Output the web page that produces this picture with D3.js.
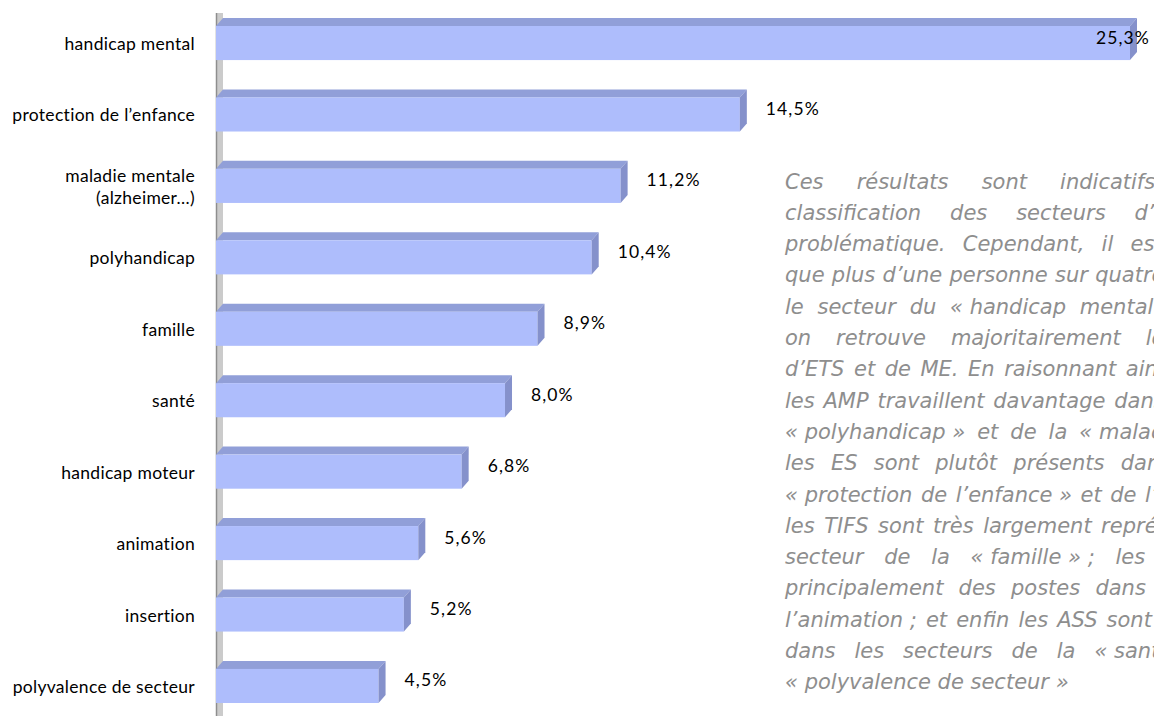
<!DOCTYPE html>
<html>
<head>
<meta charset="utf-8">
<script src="https://cdn.jsdelivr.net/npm/d3@7"></script>
<style>
  body { margin: 0; background: #fff; }
  svg { display: block; }
</style>
</head>
<body>
<script>
// secteurs d'activité, % des répondants
var categories = ["handicap mental", "protection de l’enfance", "maladie mentale\n(alzheimer…)", "polyhandicap",
                  "famille", "santé", "handicap moteur", "animation", "insertion", "polyvalence de secteur"];
var values = [25.3, 14.5, 11.2, 10.4, 8.9, 8.0, 6.8, 5.6, 5.2, 4.5];

// commentaire à droite, une entrée par ligne (justifié, coupé par le bord)
var textLines = [
  "Ces résultats sont indicatifs, car cette",
  "classification des secteurs d’activité reste",
  "problématique. Cependant, il est remarquable",
  "que plus d’une personne sur quatre travaille dans",
  "le secteur du «\u00a0handicap mental\u00a0» dans lequel",
  "on retrouve majoritairement les détenteurs",
  "d’ETS et de ME. En raisonnant ainsi, on voit que",
  "les AMP travaillent davantage dans le secteur du",
  "«\u00a0polyhandicap\u00a0» et de la «\u00a0maladie mentale\u00a0»\u00a0;",
  "les ES sont plutôt présents dans ceux de la",
  "«\u00a0protection de l’enfance\u00a0» et de l’insertion\u00a0; puis",
  "les TIFS sont très largement représentés dans le",
  "secteur de la «\u00a0famille\u00a0»\u00a0; les ME occupent",
  "principalement des postes dans le secteur de",
  "l’animation\u00a0; et enfin les ASS sont très présentes",
  "dans les secteurs de la «\u00a0santé\u00a0» et de la",
  "«\u00a0polyvalence de secteur\u00a0»"
];

var width = 1154, height = 716;
var depth = {dx: 7, dy: 8};
var colors = {front: "#aebdfc", top: "#919fd8", side: "#8591cb", wall: "#cbcbcb", wallEdge: "#8e8e8e"};

var fr = d3.formatLocale({decimal: ",", thousands: " ", grouping: [3], currency: ["", " €"]});
var pct = v => fr.format(".1f")(v) + "%";

var svg = d3.select("body").append("svg")
    .attr("width", width)
    .attr("height", height);

var xScale = d3.scaleLinear().domain([0, d3.max(values)]).range([216, 1130]),
    yScale = d3.scaleBand().domain(categories).range([26, 703]).paddingInner(0.523).paddingOuter(0);

// mur vertical (axe)
svg.append("rect")
    .attr("x", xScale(0))
    .attr("y", 13)
    .attr("width", depth.dx)
    .attr("height", height - 13)
    .attr("fill", colors.wall);
svg.append("line")
    .attr("x1", xScale(0) + 0.5).attr("x2", xScale(0) + 0.5)
    .attr("y1", 13).attr("y2", height)
    .attr("stroke", colors.wallEdge)
    .attr("stroke-width", 1.5);

var rows = categories.map((c, i) => ({cat: c, value: values[i]}));

var bars = svg.append("g")
    .attr("class", "bars")
    .selectAll("g")
    .data(rows)
    .enter()
    .append("g");

// face du dessus
bars.append("polygon")
    .attr("fill", colors.top)
    .attr("points", function(d) {
      var x0 = xScale(0), x1 = xScale(d.value), y = yScale(d.cat);
      return [[x0, y], [x0 + depth.dx, y - depth.dy], [x1 + depth.dx, y - depth.dy], [x1, y]].join(" ");
    });

// face avant
bars.append("rect")
    .attr("x", xScale(0))
    .attr("y", d => yScale(d.cat))
    .attr("width", d => xScale(d.value) - xScale(0))
    .attr("height", yScale.bandwidth())
    .attr("fill", colors.front);

// face de côté
bars.append("polygon")
    .attr("fill", colors.side)
    .attr("points", function(d) {
      var x1 = xScale(d.value), y = yScale(d.cat), h = yScale.bandwidth();
      return [[x1, y], [x1 + depth.dx, y - depth.dy], [x1 + depth.dx, y + h - depth.dy], [x1, y + h]].join(" ");
    });

// valeurs
bars.append("text")
    .text(d => pct(d.value))
    .attr("font-family", "Lato, sans-serif")
    .attr("font-size", 17.5)
    .attr("letter-spacing", 1.1)
    .attr("fill", "#000")
    .attr("dominant-baseline", "central")
    .attr("y", d => yScale(d.cat) + yScale.bandwidth() / 2 - 6)
    .attr("x", function(d) {
      var x = xScale(d.value) + depth.dx + 19,
          w = this.getComputedTextLength();
      return Math.min(x, width - 4 - w);
    });

// libellés des catégories
var labels = svg.append("g")
    .attr("font-family", "Lato, sans-serif")
    .attr("font-size", 17.5)
    .attr("letter-spacing", 0.3)
    .attr("text-anchor", "end")
    .selectAll("text")
    .data(rows)
    .enter()
    .append("text")
    .attr("y", d => yScale(d.cat) + yScale.bandwidth() / 2)
    .attr("dominant-baseline", "central");

labels.selectAll("tspan")
    .data(d => d.cat.split("\n").map((t, i, a) => ({t: t, dy: (i - (a.length - 1) / 2) * 22})))
    .enter()
    .append("tspan")
    .attr("x", 195)
    .attr("dy", (t, i) => i === 0 ? t.dy : 22)
    .text(t => t.t);

// bloc de texte justifié
var block = {x: 785, y: 188.5, width: 530, lineHeight: 31.3};
var note = svg.append("g")
    .attr("font-family", "'DejaVu Sans', Verdana, sans-serif")
    .attr("font-style", "italic")
    .attr("font-size", 21)
    .attr("fill", "#8e8e8e");

var probe = note.append("text").attr("x", -1000).attr("y", -1000);
var spaceW = (function() {
  probe.text("a a"); var a = probe.node().getComputedTextLength();
  probe.text("aa"); return a - probe.node().getComputedTextLength();
})();

textLines.forEach(function(line, li) {
  var words = line.split(" ");
  var widths = words.map(function(w) { probe.text(w); return probe.node().getComputedTextLength(); });
  var total = d3.sum(widths);
  var last = li === textLines.length - 1;
  var gap = (last || words.length < 2) ? spaceW : Math.max(spaceW, (block.width - total) / (words.length - 1));
  var t = note.append("text").attr("y", block.y + li * block.lineHeight);
  var x = block.x;
  words.forEach(function(w, wi) {
    t.append("tspan").attr("x", x).text(w);
    x += widths[wi] + gap;
  });
});
probe.remove();
</script>
</body>
</html>
